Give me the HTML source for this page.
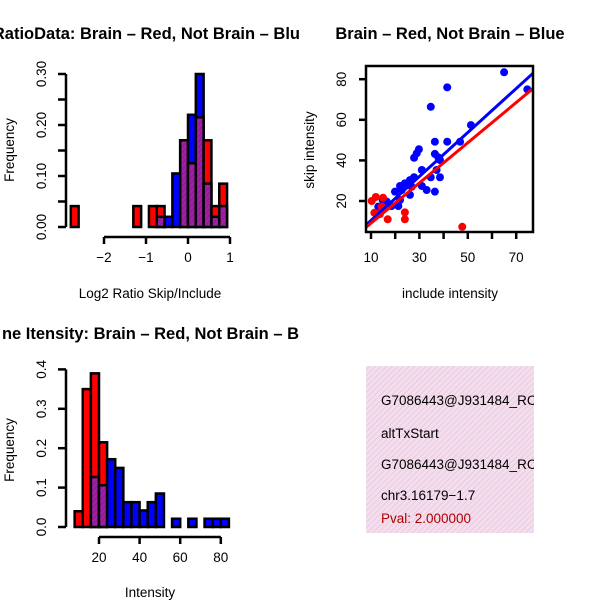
<!DOCTYPE html>
<html><head><meta charset="utf-8"><style>
html,body{margin:0;padding:0;background:#fff}
svg{display:block;font-family:"Liberation Sans",sans-serif}
</style></head><body>
<svg id="c" width="600" height="600" viewBox="0 0 600 600" xmlns="http://www.w3.org/2000/svg">
<defs>
<pattern id="hatch" width="4" height="4" patternUnits="userSpaceOnUse" patternTransform="rotate(45)">
<rect width="4" height="4" fill="#a020a0"/><line x1="0" y1="0" x2="0" y2="4" stroke="#7a1a9a" stroke-width="1.5"/></pattern>
<pattern id="pink" width="4" height="4" patternUnits="userSpaceOnUse" patternTransform="rotate(45)">
<rect width="4" height="4" fill="#f6dcf0"/><line x1="0" y1="0" x2="0" y2="4" stroke="#d8c8c8" stroke-width="1.2"/></pattern>
<clipPath id="clipL"><rect x="0" y="0" width="300" height="600"/></clipPath>
<clipPath id="clipS"><rect x="366" y="66" width="167" height="166"/></clipPath>
</defs>
<g id="g1"></g>
<g id="g2"></g>
<g id="g3"></g>
<g>
<rect x="366" y="366" width="168" height="167" fill="url(#pink)"/>
<text x="381" y="405" font-size="13.5">G7086443@J931484_RC</text>
<text x="381" y="438" font-size="13.5">altTxStart</text>
<text x="381" y="469" font-size="13.5">G7086443@J931484_RC</text>
<text x="381" y="500" font-size="13.5">chr3.16179−1.7</text>
<text x="381" y="523" font-size="13.5" fill="#b00000">Pval: 2.000000</text>
<rect x="534" y="360" width="70" height="180" fill="#fff"/>
</g>
</svg>
<script>
// ---- Histogram 1 data (bins of width 0.186 starting at k*w) ----
const h1Bins = [-15,-7,-5,-4,-3,-2,-1,0,1,2,3,4];
const h1Red  = [0.041,0.041,0.041,0.041,0,0,0.17,0.125,0.215,0.17,0.041,0.085];
const h1Blue = [0,0,0,0.02,0.02,0.105,0.17,0.22,0.30,0.085,0.02,0.041];
const h1XTicks = [-2,-1,0,1];
const h1YTicks = ["0.00","0.10","0.20","0.30"];
// ---- Histogram 2 data (bins of width 4) ----
const h2Starts = [8,12,16,20,24,28,32,36,40,44,48,56,64,72,76,80];
const h2Red  = [0.04,0.35,0.39,0.215,0,0,0,0,0,0,0,0,0,0,0,0];
const h2Blue = [0,0,0.127,0.106,0.172,0.15,0.063,0.063,0.042,0.063,0.085,0.021,0.021,0.021,0.021,0.021];
const h2XTicks = [20,40,60,80];
const h2YTicks = ["0.0","0.1","0.2","0.3","0.4"];
// ---- Scatter data ----
const blueX = [65,74.6,41.5,34.7,51.3,36.4,41.5,46.8,29.8,28.9,27.8,36.4,37.8,31,37.1,38.5,34.7,27.8,26.1,24,22,19.9,26.8,31,33,36.4,26.1,22,21.3,18.5,14.8,13,16.5,22.7,38.5];
const blueY = [83.4,75,76,66.4,57.4,49.2,49.2,49.2,45.5,43.5,41.3,43.2,41.5,35.3,35.3,31.7,31.7,31.7,30.3,28.7,27.4,24.6,27,27.4,25.4,24.6,23,20.5,17.5,17.5,20.5,17.2,19.7,25.4,40.2];
const redX = [10.3,12,15,11.4,13.7,16.9,24,24,47.7,14.4];
const redY = [20,22,21.6,14.2,13.6,11,14.4,11,7.3,17.2];
const blueFit = [-0.4,1.083]; // intercept, slope
const redFit = [-0.8,0.99];
const scXTicks = [10,20,30,40,50,60,70];
const scXLabels = ["10","","30","","50","","70"];
const scYTicks = [20,40,60,80];

const NS="http://www.w3.org/2000/svg";
const FS=13.5, TFS=16.5;
function mk(p,tag,a,txt){const e=document.createElementNS(NS,tag);for(const k in a)e.setAttribute(k,a[k]);if(txt!==undefined)e.textContent=txt;p.appendChild(e);return e;}

// Histogram 1
(function(){
const g=document.getElementById('g1');
const xs=v=>188+v*42, ys=v=>227-v*510, w=0.186;
h1Bins.forEach((k,i)=>{
  const x0=xs(k*w),x1=xs((k+1)*w);
  const r=h1Red[i],b=h1Blue[i],mx=Math.max(r,b),mn=Math.min(r,b);
  if(mx<=0)return;
  const top=mk(g,'rect',{x:x0,y:ys(mx),width:x1-x0,height:ys(0)-ys(mx),fill:r>=b?'#ff0000':'#0000ff',stroke:'#000','stroke-width':2.5});
  
  
  if(mn>0){const o=mk(g,'rect',{x:x0,y:ys(mn),width:x1-x0,height:ys(0)-ys(mn),fill:'url(#hatch)',stroke:'#000','stroke-width':2.5});
  
  }
});
mk(g,'line',{x1:66,y1:ys(0),x2:66,y2:ys(0.3),stroke:'#000','stroke-width':2.5});
for(let i=0;i<=6;i++){const y=ys(i*0.05);mk(g,'line',{x1:58,y1:y,x2:66,y2:y,stroke:'#000','stroke-width':2.5});}
h1YTicks.forEach((t,i)=>{const y=ys(i*0.1);const e=mk(g,'text',{x:46,y:y,'font-size':FS,'text-anchor':'middle',transform:`rotate(-90 46 ${y})`},t);

});
mk(g,'line',{x1:xs(-2),y1:237,x2:xs(1),y2:237,stroke:'#000','stroke-width':2.5});
h1XTicks.forEach(t=>{mk(g,'line',{x1:xs(t),y1:237,x2:xs(t),y2:244,stroke:'#000','stroke-width':2.5});
const e=mk(g,'text',{x:xs(t),y:262,'font-size':FS,'text-anchor':'middle'},t<0?'−'+(-t):String(t));

});
const t1=mk(g,'text',{x:300,y:39,'font-size':TFS,'font-weight':'bold','text-anchor':'end','clip-path':'url(#clipL)'},'RatioData: Brain – Red, Not Brain – Blu');


const yl=mk(g,'text',{x:14,y:150,'font-size':FS,'text-anchor':'middle',transform:'rotate(-90 14 150)'},'Frequency');


const xl=mk(g,'text',{x:150,y:298,'font-size':FS,'text-anchor':'middle'},'Log2 Ratio Skip/Include');


})();

// Histogram 2
(function(){
const g=document.getElementById('g3');
const xs=v=>99+(v-20)*2.03, ys=v=>527-v*394, w=4;
h2Starts.forEach((s,i)=>{
  const x0=xs(s),x1=xs(s+w);
  const r=h2Red[i],b=h2Blue[i],mx=Math.max(r,b),mn=Math.min(r,b);
  if(mx<=0)return;
  const top=mk(g,'rect',{x:x0,y:ys(mx),width:x1-x0,height:ys(0)-ys(mx),fill:r>=b?'#ff0000':'#0000ff',stroke:'#000','stroke-width':2.5});
  
  
  if(mn>0){const o=mk(g,'rect',{x:x0,y:ys(mn),width:x1-x0,height:ys(0)-ys(mn),fill:'url(#hatch)',stroke:'#000','stroke-width':2.5});
  
  }
});
mk(g,'line',{x1:66,y1:ys(0),x2:66,y2:ys(0.4),stroke:'#000','stroke-width':2.5});
h2YTicks.forEach((t,i)=>{const y=ys(i*0.1);mk(g,'line',{x1:58,y1:y,x2:66,y2:y,stroke:'#000','stroke-width':2.5});
const e=mk(g,'text',{x:46,y:y,'font-size':FS,'text-anchor':'middle',transform:`rotate(-90 46 ${y})`},t);

});
mk(g,'line',{x1:xs(20),y1:537,x2:xs(80),y2:537,stroke:'#000','stroke-width':2.5});
h2XTicks.forEach(t=>{mk(g,'line',{x1:xs(t),y1:537,x2:xs(t),y2:544,stroke:'#000','stroke-width':2.5});
const e=mk(g,'text',{x:xs(t),y:562,'font-size':FS,'text-anchor':'middle'},String(t));

});
const t1=mk(g,'text',{x:299,y:339,'font-size':TFS,'font-weight':'bold','text-anchor':'end','clip-path':'url(#clipL)'},'ne Itensity: Brain – Red, Not Brain – B');


const yl=mk(g,'text',{x:14,y:450,'font-size':FS,'text-anchor':'middle',transform:'rotate(-90 14 450)'},'Frequency');


const xl=mk(g,'text',{x:150,y:597,'font-size':FS,'text-anchor':'middle'},'Intensity');


})();

// Scatter
(function(){
const g=document.getElementById('g2');
const xs=v=>371+(v-10)*2.42, ys=v=>201-(v-20)*2.03;
blueX.forEach((x,i)=>{const c=mk(g,'circle',{cx:xs(x),cy:ys(blueY[i]),r:4,fill:'#0000ff'});

});
redX.forEach((x,i)=>{const c=mk(g,'circle',{cx:xs(x),cy:ys(redY[i]),r:4,fill:'#ff0000'});

});
const xa=5,xb=80;
const bl=mk(g,'line',{x1:xs(xa),y1:ys(blueFit[0]+blueFit[1]*xa),x2:xs(xb),y2:ys(blueFit[0]+blueFit[1]*xb),stroke:'#0000ff','stroke-width':3,'clip-path':'url(#clipS)'});


const rl=mk(g,'line',{x1:xs(xa),y1:ys(redFit[0]+redFit[1]*xa),x2:xs(xb),y2:ys(redFit[0]+redFit[1]*xb),stroke:'#ff0000','stroke-width':3,'clip-path':'url(#clipS)'});


mk(g,'rect',{x:366,y:66,width:167,height:166,fill:'none',stroke:'#000','stroke-width':2.5});
scXTicks.forEach((t,i)=>{mk(g,'line',{x1:xs(t),y1:232,x2:xs(t),y2:239,stroke:'#000','stroke-width':2.5});
const e=mk(g,'text',{x:xs(t),y:262,'font-size':FS,'text-anchor':'middle'},scXLabels[i]);

});
scYTicks.forEach(t=>{const y=ys(t);mk(g,'line',{x1:359,y1:y,x2:366,y2:y,stroke:'#000','stroke-width':2.5});
const e=mk(g,'text',{x:346,y:y,'font-size':FS,'text-anchor':'middle',transform:`rotate(-90 346 ${y})`},String(t));

});
const t1=mk(g,'text',{x:450,y:39,'font-size':TFS,'font-weight':'bold','text-anchor':'middle'},'Brain – Red, Not Brain – Blue');


const yl=mk(g,'text',{x:314,y:150,'font-size':FS,'text-anchor':'middle',transform:'rotate(-90 314 150)'},'skip intensity');


const xl=mk(g,'text',{x:450,y:298,'font-size':FS,'text-anchor':'middle'},'include intensity');


})();
</script>
</body></html>
